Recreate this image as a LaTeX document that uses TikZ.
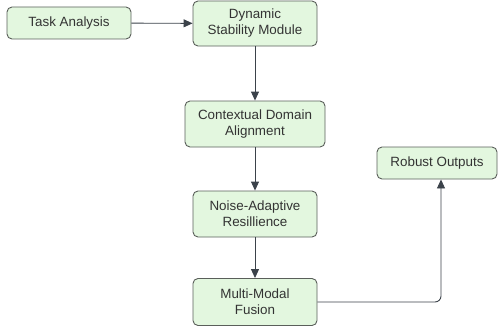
\documentclass[tikz,border=0pt]{standalone}
\usepackage{fontspec}
\setmainfont{Liberation Sans}
\usetikzlibrary{arrows.meta}
\definecolor{boxfill}{HTML}{E3F7DF}
\definecolor{boxline}{HTML}{5A5F5A}
\definecolor{txt}{HTML}{333333}
\definecolor{arr}{HTML}{3B424A}
\tikzset{
  box/.style={draw=boxline, line width=0.9pt, fill=boxfill, rounded corners=5pt,
    minimum width=124pt, minimum height=46pt, inner sep=0pt, align=center,
    text=txt, font=\fontsize{13.4}{16}\selectfont},
  conn/.style={draw=arr, line width=0.9pt, -{Triangle[length=9pt,width=8pt]}}
}
\begin{document}
\begin{tikzpicture}[x=1pt,y=-1pt]
\useasboundingbox (0,0) rectangle (502,329);
\node[box, minimum height=32pt] (task) at (69,23) {Task Analysis};
\node[box, minimum height=45pt] (dsm) at (255,23.5) {Dynamic\\Stability Module};
\node[box, minimum width=140pt] (cda) at (255,124) {Contextual Domain\\Alignment};
\node[box] (nar) at (255,214) {Noise-Adaptive\\Resillience};
\node[box, minimum height=47pt] (mmf) at (255,302) {Multi-Modal\\Fusion};
\node[box, minimum width=120pt, minimum height=32pt] (rob) at (437,163) {Robust Outputs};
\coordinate (corner) at (441,302);
\draw[conn] (task) -- (dsm);
\draw[conn] (dsm) -- (cda);
\draw[conn] (cda) -- (nar);
\draw[conn] (nar) -- (mmf);
\draw[conn, rounded corners=6pt] (mmf.east) -- (corner) -- (corner |- rob.south);
\end{tikzpicture}
\end{document}
